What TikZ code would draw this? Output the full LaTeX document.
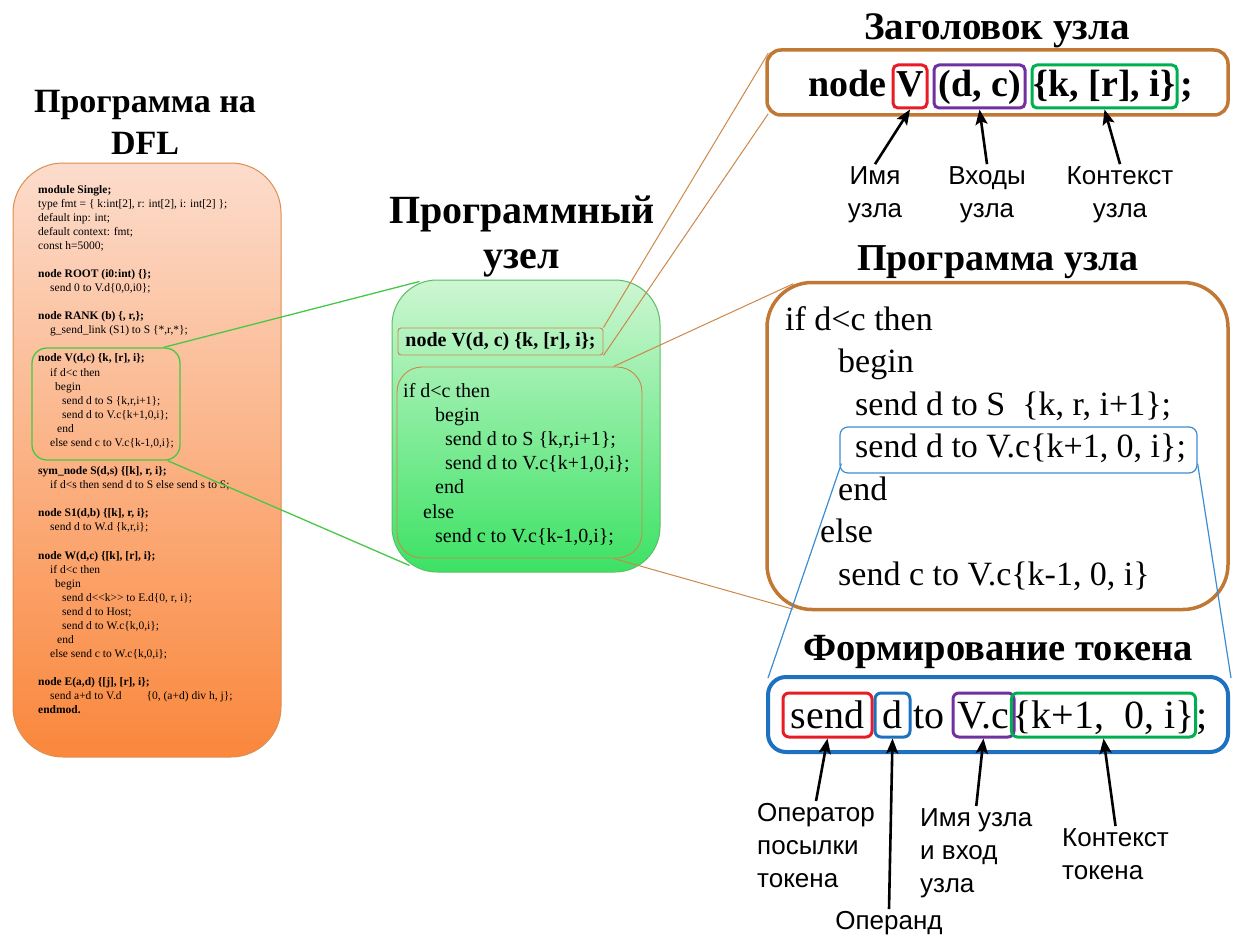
\documentclass[tikz,border=0pt]{standalone}
\usepackage{fontspec}
\setmainfont{Liberation Serif}
\newfontfamily\labsans{Liberation Sans}
\usetikzlibrary{arrows.meta,calc}
\definecolor{brn}{RGB}{192,120,52}
\definecolor{brnl}{RGB}{205,135,75}
\definecolor{grl}{RGB}{70,200,70}
\definecolor{grb}{RGB}{90,190,100}
\definecolor{redb}{RGB}{232,28,36}
\definecolor{purb}{RGB}{112,48,160}
\definecolor{greb}{RGB}{0,176,80}
\definecolor{blub}{RGB}{30,112,192}
\definecolor{blul}{RGB}{60,140,210}
\definecolor{orT}{RGB}{252,220,204}
\definecolor{orB}{RGB}{250,135,60}
\definecolor{orD}{RGB}{222,142,80}
\definecolor{gnT}{RGB}{205,246,210}
\definecolor{gnB}{RGB}{60,226,100}
\newcommand\TA[2]{\begin{tabular}[t]{@{}#1@{}}#2\end{tabular}}
\begin{document}
\begin{tikzpicture}[x=1pt,y=-1pt,
  txt/.style={inner sep=0pt, anchor=base west},
  ttl/.style={inner sep=0pt, anchor=base},
  lab/.style={font=\labsans\fontsize{26}{33}\selectfont, inner sep=2pt, align=center},
  labl/.style={lab, align=left, anchor=north west},
  arr/.style={line width=2.6pt, -{Stealth[length=15pt,width=12pt,inset=3pt]}},
  hb/.style={draw, line width=3pt, rounded corners=5pt, minimum height=43pt, text height=28pt, text depth=8pt, inner sep=1pt, font=\bfseries\fontsize{38}{44}\selectfont},
  tb/.style={draw, line width=3pt, rounded corners=6pt, minimum height=44pt, text height=29pt, text depth=3pt, inner sep=1pt, font=\fontsize{40}{46}\selectfont},
  conb/.style={brnl, line width=1pt},
  cong/.style={grl, line width=1.3pt},
  conbl/.style={blul, line width=1.2pt}
]
\useasboundingbox (0,0) rectangle (1233,939);

% ---------- panels ----------
\node[draw=orD, line width=1pt, rounded corners=50pt, top color=orT, bottom color=orB, minimum width=268pt, minimum height=594pt] (lp) at (147,460) {};
\node[draw=grb, line width=1pt, rounded corners=45pt, top color=gnT, bottom color=gnB, minimum width=268pt, minimum height=292pt] (mg) at (526,426) {};
\node[draw=brn, line width=3.5pt, rounded corners=14pt, minimum width=461pt, minimum height=65pt] (rh) at (997.5,82.5) {};
\node[draw=brn, line width=3.5pt, rounded corners=45pt, minimum width=461pt, minimum height=327pt] (rp) at (997.5,446) {};
\node[draw=blub, line width=4pt, rounded corners=18pt, minimum width=460pt, minimum height=75pt] (tok) at (998,714.5) {};

% ---------- titles ----------
\node[ttl, font=\bfseries\fontsize{34}{42}\selectfont] (tL) at (145,113) {\TA{c}{Программа на\\DFL}};
\node[ttl, font=\bfseries\fontsize{40}{45}\selectfont] (tM) at (522,223) {\TA{c}{Программный\\узел}};
\node[ttl, font=\bfseries\fontsize{39}{42}\selectfont] (tH) at (997,40) {Заголовок узла};
\node[ttl, font=\bfseries\fontsize{38}{42}\selectfont] (tP) at (998,270) {Программа узла};
\node[ttl, font=\bfseries\fontsize{38.5}{42}\selectfont] (tT) at (998,660) {Формирование токена};

% ---------- left listing ----------
\node[txt, font=\fontsize{11.5}{14.08}\selectfont] (lcode) at (38,193) {\TA{l}{%
\textbf{module Single;}\\
type fmt = \{ k:int[2], r: int[2], i: int[2] \};\\
default inp: int;\\
default context: fmt;\\
const h=5000;\\
\\
\textbf{node ROOT (i0:int) \{\};}\\
\hspace*{12pt}send 0 to V.d\{0,0,i0\};\\
\\
\textbf{node RANK (b) \{, r,\};}\\
\hspace*{12pt}g\_send\_link (S1) to S \{*,r,*\};\\
\\
\textbf{node V(d,c) \{k, [r], i\};}\\
\hspace*{12pt}if d<c then\\
\hspace*{17pt}begin\\
\hspace*{24pt}send d to S \{k,r,i+1\};\\
\hspace*{24pt}send d to V.c\{k+1,0,i\};\\
\hspace*{19pt}end\\
\hspace*{12pt}else send c to V.c\{k-1,0,i\};\\
\\
\textbf{sym\_node S(d,s) \{[k], r, i\};}\\
\hspace*{12pt}if d<s then send d to S else send s to S;\\
\\
\textbf{node S1(d,b) \{[k], r, i\};}\\
\hspace*{12pt}send d to W.d \{k,r,i\};\\
\\
\textbf{node W(d,c) \{[k], [r], i\};}\\
\hspace*{12pt}if d<c then\\
\hspace*{17pt}begin\\
\hspace*{24pt}send d<{}<k>{}> to E.d\{0, r, i\};\\
\hspace*{24pt}send d to Host;\\
\hspace*{24pt}send d to W.c\{k,0,i\};\\
\hspace*{19pt}end\\
\hspace*{12pt}else send c to W.c\{k,0,i\};\\
\\
\textbf{node E(a,d) \{[j], [r], i\};}\\
\hspace*{12pt}send a+d to V.d\hspace*{25pt}\{0, (a+d) div h, j\};\\
\textbf{endmod.}}};
\node[draw=grl, line width=1.3pt, rounded corners=15pt, minimum width=148pt, minimum height=112pt] (lhl) at (106,404) {};

% ---------- middle node ----------
\node[draw=brnl, line width=0.9pt, rounded corners=3pt, minimum width=205pt, minimum height=27pt, inner sep=1pt, font=\bfseries\fontsize{20}{24}\selectfont] (mh) at (500.5,341.5) {node V(d, c) \{k, [r], i\};};
\node[draw=brnl, line width=0.9pt, rounded corners=25pt, minimum width=245pt, minimum height=191pt] (mp) at (519.5,462.5) {};
\node[txt, font=\fontsize{20}{24.2}\selectfont] (mpt) at (403,397) {\TA{l}{%
if d<c then\\
\hspace*{32pt}begin\\
\hspace*{42pt}send d to S \{k,r,i+1\};\\
\hspace*{42pt}send d to V.c\{k+1,0,i\};\\
\hspace*{32pt}end\\
\hspace*{20pt}else\\
\hspace*{32pt}send c to V.c\{k-1,0,i\};}};

% ---------- header detail ----------
\node[txt, font=\bfseries\fontsize{38}{44}\selectfont] (hn) at (808,97) {node};
\node[hb, draw=redb, minimum width=34pt] (hV) at (910,86.5) {V};
\node[hb, draw=purb, minimum width=91pt] (hI) at (979.5,86.5) {(d, c)};
\node[hb, draw=greb, minimum width=145pt] (hC) at (1104.5,86.5) {\{k, [r], i\}};
\node[txt, font=\bfseries\fontsize{38}{44}\selectfont] (hs) at (1180,97) {;};
\node[lab] (lV) at (875,194.5) {Имя\\узла};
\node[lab] (lI) at (987,194.5) {Входы\\узла};
\node[lab] (lC) at (1120,194.5) {Контекст\\узла};
\draw[arr] (lV.north) -- (hV.south);
\draw[arr] (lI.north) -- (hI.south);
\draw[arr] (lC.north) -- (hC.south);

% ---------- program detail ----------
\node[txt, font=\fontsize{34}{42.5}\selectfont] (rpt) at (785,330) {\TA{l}{%
if d<c then\\
\hspace*{53pt}begin\\
\hspace*{70pt}send d to S\ \ \{k, r, i+1\};\\
\hspace*{70pt}send d to V.c\{k+1, 0, i\};\\
\hspace*{53pt}end\\
\hspace*{35pt}else\\
\hspace*{53pt}send c to V.c\{k-1, 0, i\}}};
\node[draw=blul, line width=1.2pt, rounded corners=8pt, minimum width=357pt, minimum height=46pt] (rhl) at (1018.5,450) {};

% ---------- token detail ----------
\node[tb, draw=redb, minimum width=89pt] (tS) at (827.5,715) {send};
\node[tb, draw=blub, minimum width=35pt] (tD) at (892.5,715) {d};
\node[txt, font=\fontsize{40}{46}\selectfont] (tTo) at (913,728) {to};
\node[tb, draw=purb, minimum width=61pt] (tV) at (983.5,715) {V.c};
\node[tb, draw=greb, minimum width=173pt] (tC) at (1103.5,715) {\{k+1,\ \ 0, i\}};
\node[txt, font=\fontsize{40}{46}\selectfont] (tSc) at (1196,728) {;};
\node[labl] (lOp) at (755,801) {Оператор\\посылки\\токена};
\node[lab] (lOd) at (889,923) {Операнд};
\node[labl] (lNm) at (918,806) {Имя узла\\и вход\\узла};
\node[labl] (lCt) at (1060,826) {Контекст\\токена};
\draw[arr] (lOp.north) -- (tS.south);
\draw[arr] (lOd.north) -- (tD.south);
\draw[arr] (lNm.north) -- (tV.south);
\draw[arr] (lCt.north) -- (tC.south);

% ---------- connectors ----------
\draw[cong] ($(lhl.north east)+(-17,0)$) -- ($(mg.north west)+(28,2)$);
\draw[cong] ($(lhl.south east)+(-13,0)$) -- ($(mg.south west)+(18,-7)$);
\draw[conb] (mh.north east) -- ($(rh.north west)+(3,5)$);
\draw[conb] (mh.south east) -- ($(rh.south west)+(3,-3)$);
\draw[conb] ($(mp.north east)+(-29,0)$) -- ($(rp.north west)+(28,3)$);
\draw[conb] ($(mp.south east)+(-29,0)$) -- ($(rp.south west)+(28,-2)$);
\draw[conbl] ($(rhl.south west)+(2,-10)$) -- ($(tok.north west)+(2,3)$);
\draw[conbl] ($(rhl.south east)+(0,-10)$) -- ($(tok.north east)+(1,3)$);
\end{tikzpicture}
\end{document}
